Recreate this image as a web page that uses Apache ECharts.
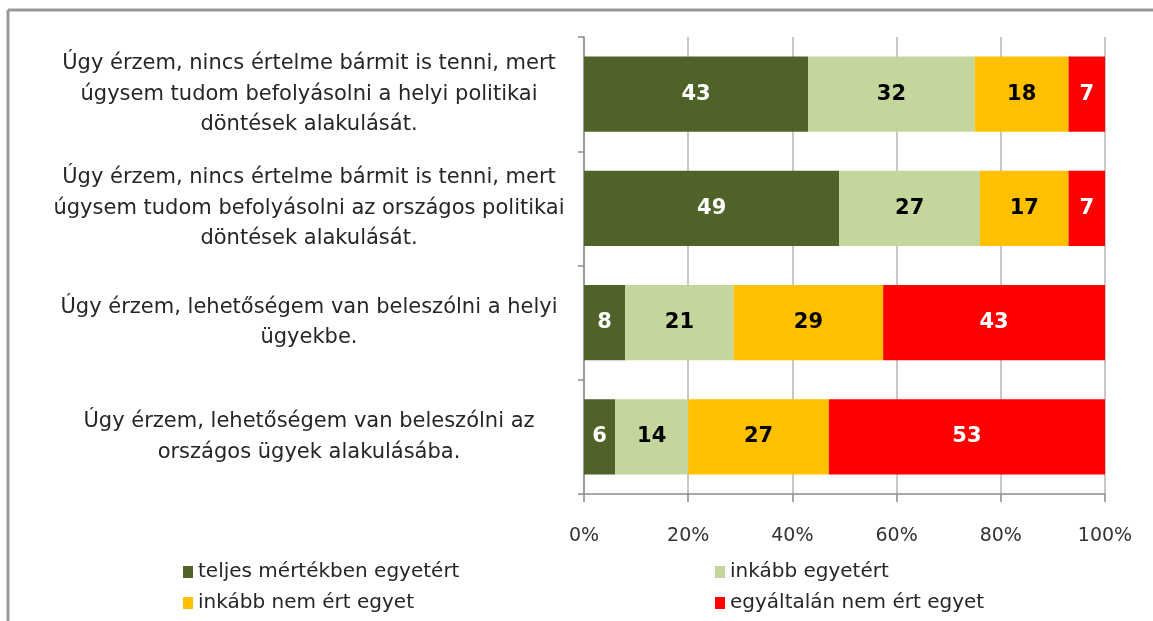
<!DOCTYPE html>
<html>
<head>
<meta charset="utf-8">
<script src="https://cdn.jsdelivr.net/npm/echarts@6/dist/echarts.min.js"></script>
<style>
html,body{margin:0;padding:0;background:#fff;}
#chart{width:1153px;height:621px;}
</style>
</head>
<body>
<div id="chart"></div>
<script>
const categories = [
  "Úgy érzem, nincs értelme bármit is tenni, mert\núgysem tudom befolyásolni a helyi politikai\ndöntések alakulását.",
  "Úgy érzem, nincs értelme bármit is tenni, mert\núgysem tudom befolyásolni az országos politikai\ndöntések alakulását.",
  "Úgy érzem, lehetőségem van beleszólni a helyi\nügyekbe.",
  "Úgy érzem, lehetőségem van beleszólni az\nországos ügyek alakulásába."
];
const seriesNames = ["teljes mértékben egyetért", "inkább egyetért", "inkább nem ért egyet", "egyáltalán nem ért egyet"];
const teljesen = [43, 49, 8, 6];
const inkabbIgen = [32, 27, 21, 14];
const inkabbNem = [18, 17, 29, 27];
const egyaltalanNem = [7, 7, 43, 53];
const xTicks = [0, 20, 40, 60, 80, 100];

const colors = ["#4F6228", "#C3D69B", "#FFC000", "#FF0000"];
const labelColors = ["#ffffff", "#000000", "#000000", "#ffffff"];
const allVals = [teljesen, inkabbIgen, inkabbNem, egyaltalanNem];
const totals = categories.map((c, i) => allVals.reduce((s, arr) => s + arr[i], 0));

const FONT = "DejaVu Sans";

const series = allVals.map((arr, si) => ({
  name: seriesNames[si],
  type: 'bar',
  stack: 'total',
  barCategoryGap: '34%',
  itemStyle: { color: colors[si] },
  label: {
    show: true,
    position: 'inside',
    color: labelColors[si],
    fontFamily: FONT,
    fontWeight: 'bold',
    fontSize: 21,
    formatter: p => p.data.raw
  },
  data: arr.map((v, i) => ({ value: v / totals[i] * 100, raw: v }))
}));

const chart = echarts.init(document.getElementById('chart'), null, { renderer: 'canvas' });
chart.setOption({
  animation: false,
  backgroundColor: '#ffffff',
  graphic: [
    { type: 'line', shape: { x1: 8, y1: 10, x2: 1153, y2: 10 }, style: { stroke: '#999999', lineWidth: 3 } },
    { type: 'line', shape: { x1: 8, y1: 10, x2: 8, y2: 621 }, style: { stroke: '#999999', lineWidth: 3 } }
  ],
  grid: { left: 584, right: 48, top: 37, bottom: 127, containLabel: false },
  xAxis: {
    type: 'value',
    min: 0, max: 100, interval: 20,
    axisLine: { show: true, lineStyle: { color: '#8c8c8c', width: 1.5 } },
    axisTick: { show: true, length: 8, lineStyle: { color: '#8c8c8c', width: 1.5 } },
    splitLine: { show: true, lineStyle: { color: '#b4b4b4', width: 1.5 } },
    axisLabel: {
      formatter: v => xTicks.includes(v) ? v + '%' : '',
      color: '#333333', fontFamily: FONT, fontSize: 19, margin: 33
    }
  },
  yAxis: {
    type: 'category',
    inverse: true,
    data: categories,
    axisLine: { show: true, lineStyle: { color: '#8c8c8c', width: 1.5 } },
    axisTick: { show: true, length: 6, lineStyle: { color: '#8c8c8c', width: 1.5 } },
    axisLabel: {
      align: 'center', margin: 275, color: '#262626',
      fontFamily: FONT, fontSize: 21, lineHeight: 30.5
    }
  },
  legend: [
    {
      data: [seriesNames[0], seriesNames[2]],
      orient: 'vertical', left: 178, top: 557, itemGap: 11,
      icon: 'rect', itemWidth: 10, itemHeight: 12,
      textStyle: { fontFamily: FONT, fontSize: 20, color: '#262626' }
    },
    {
      data: [seriesNames[1], seriesNames[3]],
      orient: 'vertical', left: 710, top: 557, itemGap: 11,
      icon: 'rect', itemWidth: 10, itemHeight: 12,
      textStyle: { fontFamily: FONT, fontSize: 20, color: '#262626' }
    }
  ],
  series: series
});
</script>
</body>
</html>
